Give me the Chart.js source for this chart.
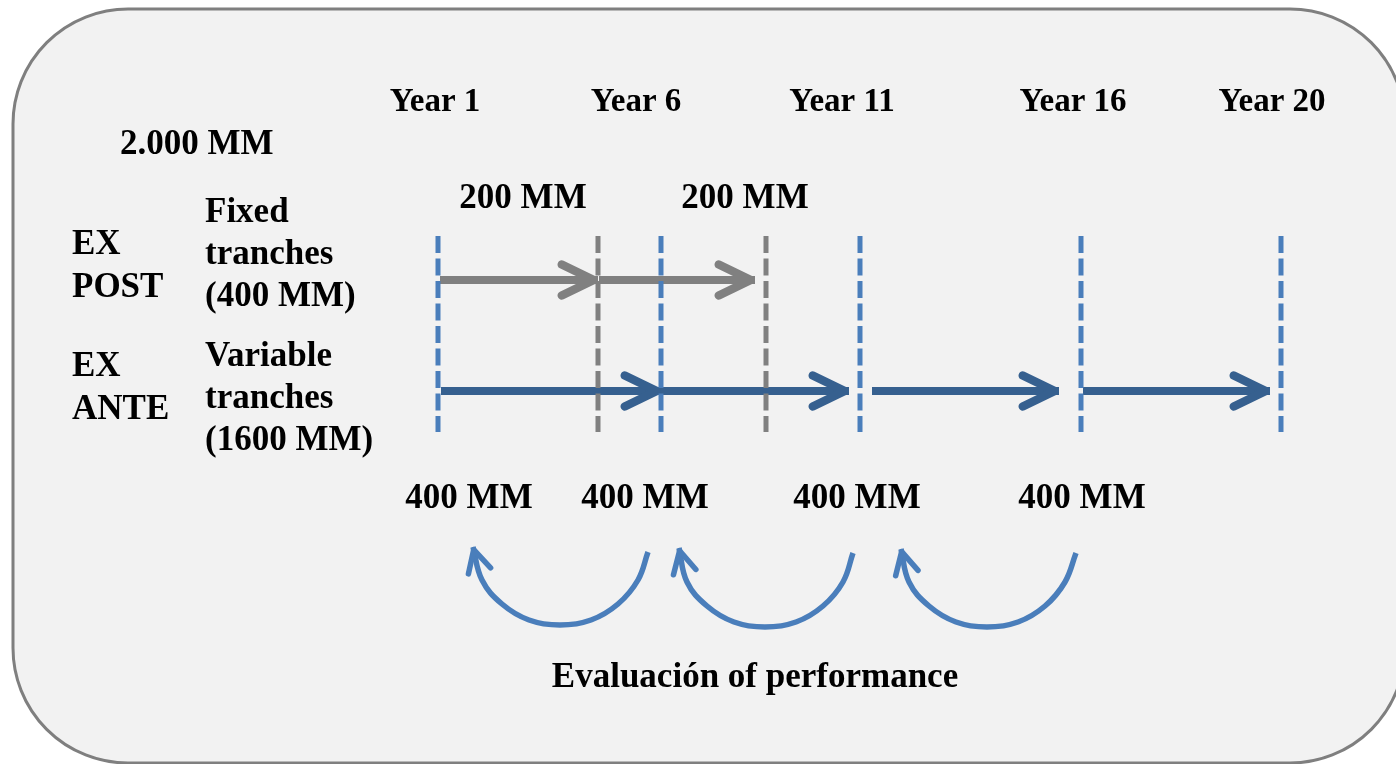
<!DOCTYPE html>
<html>
<head>
<meta charset="utf-8">
<script src="https://cdn.jsdelivr.net/npm/chart.js@4/dist/chart.umd.min.js"></script>
<style>
  html, body { margin: 0; padding: 0; background: #ffffff; overflow: hidden; }
  #c { display: block; }
</style>
</head>
<body>
<canvas id="c" width="1396" height="764"></canvas>
<script>
// ---- data (diagram units) ----
const blueMarkers = [438, 661, 860, 1081, 1281];      // year boundaries (blue dashed)
const grayMarkers = [598, 766];                        // ex-post tranche ends (gray dashed)
const markerSpan = [236, 432];
const fixedTranches = [[440, 598], [599, 755]];
const fixedRowY = 280;
const variableTranches = [[441, 661], [661, 849], [872, 1059], [1083, 1270]];
const variableRowY = 391;
const evalArc1 = [[648, 552], [638, 580], [618, 604], [591, 620], [560, 625], [529, 620], [502, 604], [482, 580], [473, 547]];
const evalArc2 = [[853, 553], [843, 582], [823, 606], [796, 622], [765, 627], [734, 622], [707, 606], [687, 582], [679, 548]];
const evalArc3 = [[1076, 553], [1065, 582], [1045, 606], [1018, 622], [987, 627], [956, 622], [929, 606], [909, 582], [901, 549]];

const yearLabels = ['Year 1', 'Year 6', 'Year 11', 'Year 16', 'Year 20'];
const yearLabelX = [435, 636, 842, 1073, 1272];
const fixedAmounts = ['200 MM', '200 MM'];
const fixedAmountX = [523, 745];
const variableAmounts = ['400 MM', '400 MM', '400 MM', '400 MM'];
const variableAmountX = [469, 645, 857, 1082];
const totalLabel = '2.000 MM';
const exPostLines = ['EX', 'POST'];
const exAnteLines = ['EX', 'ANTE'];
const fixedLines = ['Fixed', 'tranches', '(400 MM)'];
const variableLines = ['Variable', 'tranches', '(1600 MM)'];
const footerLabel = 'Evaluación of performance';

// ---- styles ----
const BLUE_DASH = '#4a7ebb';
const BLUE_ARROW = '#36608f';
const GRAY = '#808080';
const ARC_BLUE = '#4a7ebb';
const FONT_YEAR = 'bold 33px "Liberation Serif", "Times New Roman", serif';
const FONT = 'bold 35px "Liberation Serif", "Times New Roman", serif';

const datasets = [];
blueMarkers.forEach(x => datasets.push({
  data: [{x: x, y: markerSpan[0]}, {x: x, y: markerSpan[1]}],
  borderColor: BLUE_DASH, borderWidth: 5, borderDash: [17, 5.5], pointRadius: 0, order: 0
}));
grayMarkers.forEach(x => datasets.push({
  data: [{x: x, y: markerSpan[0]}, {x: x, y: markerSpan[1]}],
  borderColor: GRAY, borderWidth: 5, borderDash: [17, 5.5], pointRadius: 0, order: 0
}));
fixedTranches.forEach(s => datasets.push({
  data: [{x: s[0], y: fixedRowY}, {x: s[1], y: fixedRowY}],
  borderColor: GRAY, borderWidth: 8, pointRadius: 0, order: 2,
  arrow: {len: 32, half: 15.5, width: 8.5}
}));
variableTranches.forEach(s => datasets.push({
  data: [{x: s[0], y: variableRowY}, {x: s[1], y: variableRowY}],
  borderColor: BLUE_ARROW, borderWidth: 8, pointRadius: 0, order: 2,
  arrow: {len: 32, half: 15.5, width: 8.5}
}));
[evalArc1, evalArc2, evalArc3].forEach(a => datasets.push({
  data: a.map(p => ({x: p[0], y: p[1]})),
  borderColor: ARC_BLUE, borderWidth: 5.5, pointRadius: 0,
  tension: 0.4, order: 2,
  borderCapStyle: 'butt',
  arrow: {len: 22, half: 11.5, width: 5.5}
}));

const backgroundPlugin = {
  id: 'panel',
  beforeDraw(chart) {
    const ctx = chart.ctx;
    ctx.save();
    ctx.fillStyle = '#ffffff';
    ctx.fillRect(0, 0, chart.width, chart.height);
    const x = 13, y = 9, w = 1392, h = 754, r = 115;
    ctx.beginPath();
    ctx.moveTo(x + r, y);
    ctx.lineTo(x + w - r, y);
    ctx.arcTo(x + w, y, x + w, y + r, r);
    ctx.lineTo(x + w, y + h - r);
    ctx.arcTo(x + w, y + h, x + w - r, y + h, r);
    ctx.lineTo(x + r, y + h);
    ctx.arcTo(x, y + h, x, y + h - r, r);
    ctx.lineTo(x, y + r);
    ctx.arcTo(x, y, x + r, y, r);
    ctx.closePath();
    ctx.fillStyle = '#f2f2f2';
    ctx.fill();
    ctx.lineWidth = 3;
    ctx.strokeStyle = '#7f7f7f';
    ctx.stroke();
    ctx.restore();
  }
};

const arrowPlugin = {
  id: 'arrowheads',
  afterDatasetDraw(chart, args) {
    const ds = chart.data.datasets[args.index];
    if (!ds.arrow) return;
    const pts = args.meta.data;
    const n = pts.length;
    const tip = pts[n - 1], prev = pts[n - 2];
    let dx = prev.x - tip.x, dy = prev.y - tip.y;
    const d = Math.hypot(dx, dy);
    dx /= d; dy /= d;
    const nx = -dy, ny = dx;
    const w = ds.arrow.width;
    // apex pulled back so the rounded outer tip lands on the data end
    const ax = tip.x + dx * w / 2, ay = tip.y + dy * w / 2;
    const ctx = chart.ctx;
    ctx.save();
    ctx.strokeStyle = ds.borderColor;
    ctx.lineWidth = w;
    ctx.lineCap = 'round';
    ctx.lineJoin = 'round';
    ctx.beginPath();
    ctx.moveTo(ax + dx * ds.arrow.len + nx * ds.arrow.half, ay + dy * ds.arrow.len + ny * ds.arrow.half);
    ctx.lineTo(ax, ay);
    ctx.lineTo(ax + dx * ds.arrow.len - nx * ds.arrow.half, ay + dy * ds.arrow.len - ny * ds.arrow.half);
    ctx.stroke();
    ctx.restore();
  }
};

const textPlugin = {
  id: 'labels',
  afterDraw(chart) {
    const ctx = chart.ctx;
    const sx = chart.scales.x, sy = chart.scales.y;
    const put = (t, x, y, align) => {
      ctx.textAlign = align || 'center';
      ctx.fillText(t, sx.getPixelForValue(x), sy.getPixelForValue(y));
    };
    ctx.save();
    ctx.fillStyle = '#000000';
    ctx.textBaseline = 'alphabetic';
    ctx.font = FONT_YEAR;
    yearLabels.forEach((t, i) => put(t, yearLabelX[i], 111));
    ctx.font = FONT;
    fixedAmounts.forEach((t, i) => put(t, fixedAmountX[i], 208));
    variableAmounts.forEach((t, i) => put(t, variableAmountX[i], 508));
    put(totalLabel, 120, 154, 'left');
    exPostLines.forEach((t, i) => put(t, 72, 254 + i * 43, 'left'));
    exAnteLines.forEach((t, i) => put(t, 72, 376 + i * 43, 'left'));
    fixedLines.forEach((t, i) => put(t, 205, 222 + i * 42, 'left'));
    variableLines.forEach((t, i) => put(t, 205, 366 + i * 42, 'left'));
    put(footerLabel, 755, 687);
    ctx.restore();
  }
};

new Chart(document.getElementById('c'), {
  type: 'line',
  data: { datasets: datasets },
  options: {
    responsive: false,
    devicePixelRatio: 1,
    animation: false,
    layout: { padding: 0 },
    plugins: { legend: { display: false }, tooltip: { enabled: false } },
    scales: {
      x: { type: 'linear', min: 0, max: 1396, display: false },
      y: { type: 'linear', min: 0, max: 764, reverse: true, display: false }
    },
    elements: { line: { fill: false } }
  },
  plugins: [backgroundPlugin, arrowPlugin, textPlugin]
});
</script>
</body>
</html>
